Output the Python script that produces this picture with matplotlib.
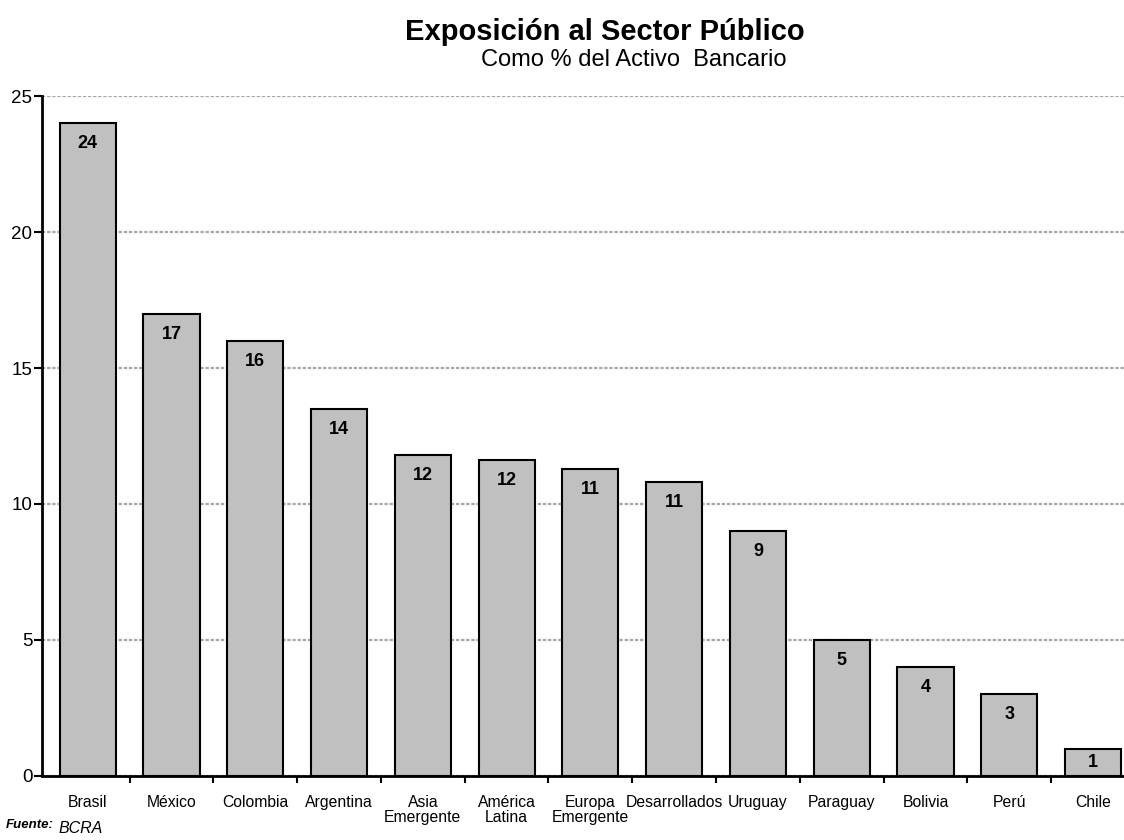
import numpy as np
import matplotlib.pyplot as plt

plt.rcParams['font.family'] = ['Liberation Sans', 'DejaVu Sans']

paises = ['Brasil', 'México', 'Colombia', 'Argentina', 'Asia\nEmergente',
          'América\nLatina', 'Europa\nEmergente', 'Desarrollados', 'Uruguay',
          'Paraguay', 'Bolivia', 'Perú', 'Chile']
exposicion = [24.0, 17.0, 16.0, 13.5, 11.8, 11.6, 11.3, 10.8, 9.0, 5.0, 4.0, 3.0, 1.0]
yticks = [0, 5, 10, 15, 20, 25]

fig = plt.figure(figsize=(11.24, 8.4), dpi=100)
ax = fig.add_axes([0.0374, 0.0762, 0.9626, 0.8095])

x = np.arange(len(paises))
ax.set_axisbelow(True)
ax.yaxis.grid(True, color='#a8a8a8', linestyle=(0, (1.5, 0.8)), linewidth=1.6)
bars = ax.bar(x, exposicion, width=0.67, color='#c0c0c0', edgecolor='black', linewidth=1.5)

# etiqueta redondeada dentro de cada barra
for xi, v in zip(x, exposicion):
    ax.text(xi, max(v - 0.75, v / 2), str(int(np.floor(v + 0.5))), ha='center',
            va='center', fontsize=13, fontweight='bold')

ax.set_xlim(-0.545, 12.37)
ax.set_ylim(0, 25)
ax.set_yticks(yticks)
ax.tick_params(axis='y', direction='out', length=6, width=1.5, labelsize=13.5, pad=1)

ax.set_xticks(x)
ax.set_xticklabels(paises, fontsize=11.3, linespacing=1.0)
ax.set_xticks(np.arange(len(paises) - 1) + 0.5, minor=True)
ax.tick_params(axis='x', which='major', length=0, pad=14)
ax.tick_params(axis='x', which='minor', direction='out', length=5, width=1.5)

for s in ['top', 'right']:
    ax.spines[s].set_visible(False)
ax.spines['left'].set_linewidth(2)
ax.spines['bottom'].set_linewidth(2)

fig.text(0.538, 0.962, 'Exposición al Sector Público', ha='center', va='center',
         fontsize=21, fontweight='bold')
fig.text(0.564, 0.928, 'Como % del Activo  Bancario', ha='center', va='center',
         fontsize=17)
fig.text(0.005, 0.018, 'Fuente:', ha='left', va='center', fontsize=9.5,
         fontweight='bold', style='italic')
fig.text(0.052, 0.014, 'BCRA', ha='left', va='center', fontsize=11.5, style='italic')

fig.savefig('out.png', dpi=100)
